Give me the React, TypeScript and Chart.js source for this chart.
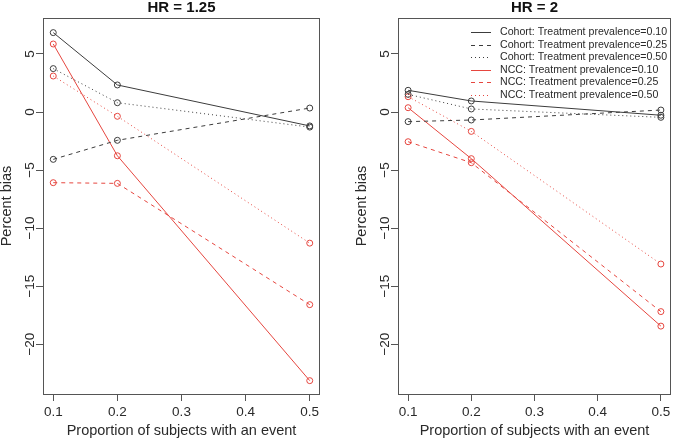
import { useEffect, useRef } from "react";
import { Chart, registerables } from "chart.js";

Chart.register(...registerables);

const proportions = [0.1, 0.2, 0.5];
const xTicks = [0.1, 0.2, 0.3, 0.4, 0.5];
const yTicks = [-20, -15, -10, -5, 0, 5];

const seriesLabels = [
  "Cohort: Treatment prevalence=0.10",
  "Cohort: Treatment prevalence=0.25",
  "Cohort: Treatment prevalence=0.50",
  "NCC: Treatment prevalence=0.10",
  "NCC: Treatment prevalence=0.25",
  "NCC: Treatment prevalence=0.50",
];

// HR = 1.25
const hr125Cohort010 = [6.84, 2.33, -1.2];
const hr125Cohort025 = [-4.08, -2.44, 0.34];
const hr125Cohort050 = [3.74, 0.8, -1.3];
const hr125Ncc010 = [5.86, -3.77, -23.15];
const hr125Ncc025 = [-6.09, -6.15, -16.6];
const hr125Ncc050 = [3.1, -0.37, -11.3];

// HR = 2
const hr2Cohort010 = [1.87, 0.95, -0.28];
const hr2Cohort025 = [-0.83, -0.69, 0.17];
const hr2Cohort050 = [1.52, 0.26, -0.46];
const hr2Ncc010 = [0.37, -4.02, -18.45];
const hr2Ncc025 = [-2.56, -4.37, -17.2];
const hr2Ncc050 = [1.32, -1.67, -13.1];

const FONT = "'Liberation Sans', Arial, Helvetica, sans-serif";
const BLACK = "#3c3c3c";
const RED = "#e6463f";
const AXIS = "#555555";
const TEXT = "#2a2a2a";

const lineStyles = [
  { color: BLACK, dash: [] as number[] },
  { color: BLACK, dash: [4, 4] },
  { color: BLACK, dash: [1, 3] },
  { color: RED, dash: [] as number[] },
  { color: RED, dash: [4, 4] },
  { color: RED, dash: [1, 3] },
];

const boxPlugin = {
  id: "rbox",
  afterDraw(chart: any) {
    const { ctx, chartArea } = chart;
    ctx.save();
    ctx.strokeStyle = AXIS;
    ctx.lineWidth = 1;
    const l = Math.round(chartArea.left) + 0.5;
    const t = Math.round(chartArea.top) + 0.5;
    const r = Math.round(chartArea.right) - 0.5;
    const b = Math.round(chartArea.bottom) + 0.5;
    ctx.strokeRect(l, t, r - l, b - t);
    ctx.restore();
  },
};

const legendPlugin = {
  id: "rlegend",
  afterDraw(chart: any, _args: any, opts: any) {
    if (!opts || !opts.display) return;
    const { ctx, chartArea } = chart;
    ctx.save();
    ctx.font = `10.6px ${FONT}`;
    ctx.textBaseline = "middle";
    ctx.textAlign = "left";
    const x0 = chartArea.right - 200;
    chart.data.datasets.forEach((ds: any, i: number) => {
      const y = chartArea.top + 14 + i * 12.6;
      ctx.strokeStyle = ds.borderColor;
      ctx.lineWidth = 1;
      ctx.setLineDash(ds.borderDash || []);
      ctx.beginPath();
      ctx.moveTo(x0, Math.round(y) + 0.5);
      ctx.lineTo(x0 + 20, Math.round(y) + 0.5);
      ctx.stroke();
      ctx.setLineDash([]);
      ctx.fillStyle = TEXT;
      ctx.fillText(ds.label, x0 + 29, y);
    });
    ctx.restore();
  },
};

function buildConfig(
  title: string,
  series: number[][],
  showLegend: boolean,
  padLeft: number,
  padRight: number,
  tickPad: number
): any {
  return {
    type: "line",
    data: {
      datasets: series.map((vals, i) => ({
        label: seriesLabels[i],
        data: proportions.map((p, j) => ({ x: p, y: vals[j] })),
        borderColor: lineStyles[i].color,
        borderDash: lineStyles[i].dash,
        borderWidth: 1,
        pointRadius: 3,
        pointBorderWidth: 1,
        pointBorderColor: lineStyles[i].color,
        pointBackgroundColor: "rgba(0,0,0,0)",
        fill: false,
        tension: 0,
      })),
    },
    options: {
      responsive: false,
      animation: false,
      layout: { padding: { left: padLeft, right: padRight, top: 0, bottom: 0 } },
      plugins: {
        legend: { display: false },
        tooltip: { enabled: false },
        title: {
          display: true,
          text: title,
          fullSize: false,
          color: "#111",
          font: { family: FONT, size: 15, weight: "bold", lineHeight: 1 },
          padding: { top: 0, bottom: 3 },
        },
        rlegend: { display: showLegend },
      },
      scales: {
        x: {
          type: "linear",
          min: 0.084,
          max: 0.516,
          afterBuildTicks: (s: any) => {
            s.ticks = xTicks.map((v) => ({ value: v }));
          },
          afterFit: (s: any) => {
            s.height = 46;
          },
          border: { display: false },
          grid: { drawOnChartArea: false, drawTicks: true, tickLength: 7, color: AXIS },
          ticks: {
            color: TEXT,
            font: { family: FONT, size: 13.5 },
            padding: 3,
            maxRotation: 0,
            minRotation: 0,
            callback: (v: any) => Number(v).toFixed(1),
          },
          title: {
            display: true,
            text: "Proportion of subjects with an event",
            color: TEXT,
            font: { family: FONT, size: 14.5 },
            padding: { top: 0, bottom: 0 },
          },
        },
        y: {
          type: "linear",
          min: -24.3,
          max: 8.1,
          afterBuildTicks: (s: any) => {
            s.ticks = yTicks.map((v) => ({ value: v }));
          },
          afterFit: (s: any) => {
            s.width = 43;
          },
          border: { display: false },
          grid: { drawOnChartArea: false, drawTicks: true, tickLength: 7, color: AXIS },
          ticks: {
            color: TEXT,
            font: { family: FONT, size: 13.5 },
            padding: tickPad,
            crossAlign: "center",
            minRotation: 90,
            maxRotation: 90,
            callback: (v: any) => String(v).replace("-", "\u2212"),
          },
          title: {
            display: true,
            text: "Percent bias",
            color: TEXT,
            font: { family: FONT, size: 14.5 },
            padding: { top: -2, bottom: 0 },
          },
        },
      },
    },
    plugins: [boxPlugin, legendPlugin],
  };
}

export default function App() {
  const leftRef = useRef<HTMLCanvasElement>(null);
  const rightRef = useRef<HTMLCanvasElement>(null);

  useEffect(() => {
    const left = new Chart(
      leftRef.current as HTMLCanvasElement,
      buildConfig(
        "HR = 1.25",
        [hr125Cohort010, hr125Cohort025, hr125Cohort050, hr125Ncc010, hr125Ncc025, hr125Ncc050],
        false,
        0,
        18,
        -6
      )
    );
    const right = new Chart(
      rightRef.current as HTMLCanvasElement,
      buildConfig(
        "HR = 2",
        [hr2Cohort010, hr2Cohort025, hr2Cohort050, hr2Ncc010, hr2Ncc025, hr2Ncc050],
        true,
        17,
        0,
        -6
      )
    );
    return () => {
      left.destroy();
      right.destroy();
    };
  }, []);

  return (
    <div style={{ position: "absolute", left: 0, top: 0, width: 676, height: 440, background: "#fff" }}>
      <canvas
        ref={leftRef}
        width={338}
        height={440}
        style={{ position: "absolute", left: 0, top: 0, display: "block" }}
      />
      <canvas
        ref={rightRef}
        width={338}
        height={440}
        style={{ position: "absolute", left: 338, top: 0, display: "block" }}
      />
    </div>
  );
}
